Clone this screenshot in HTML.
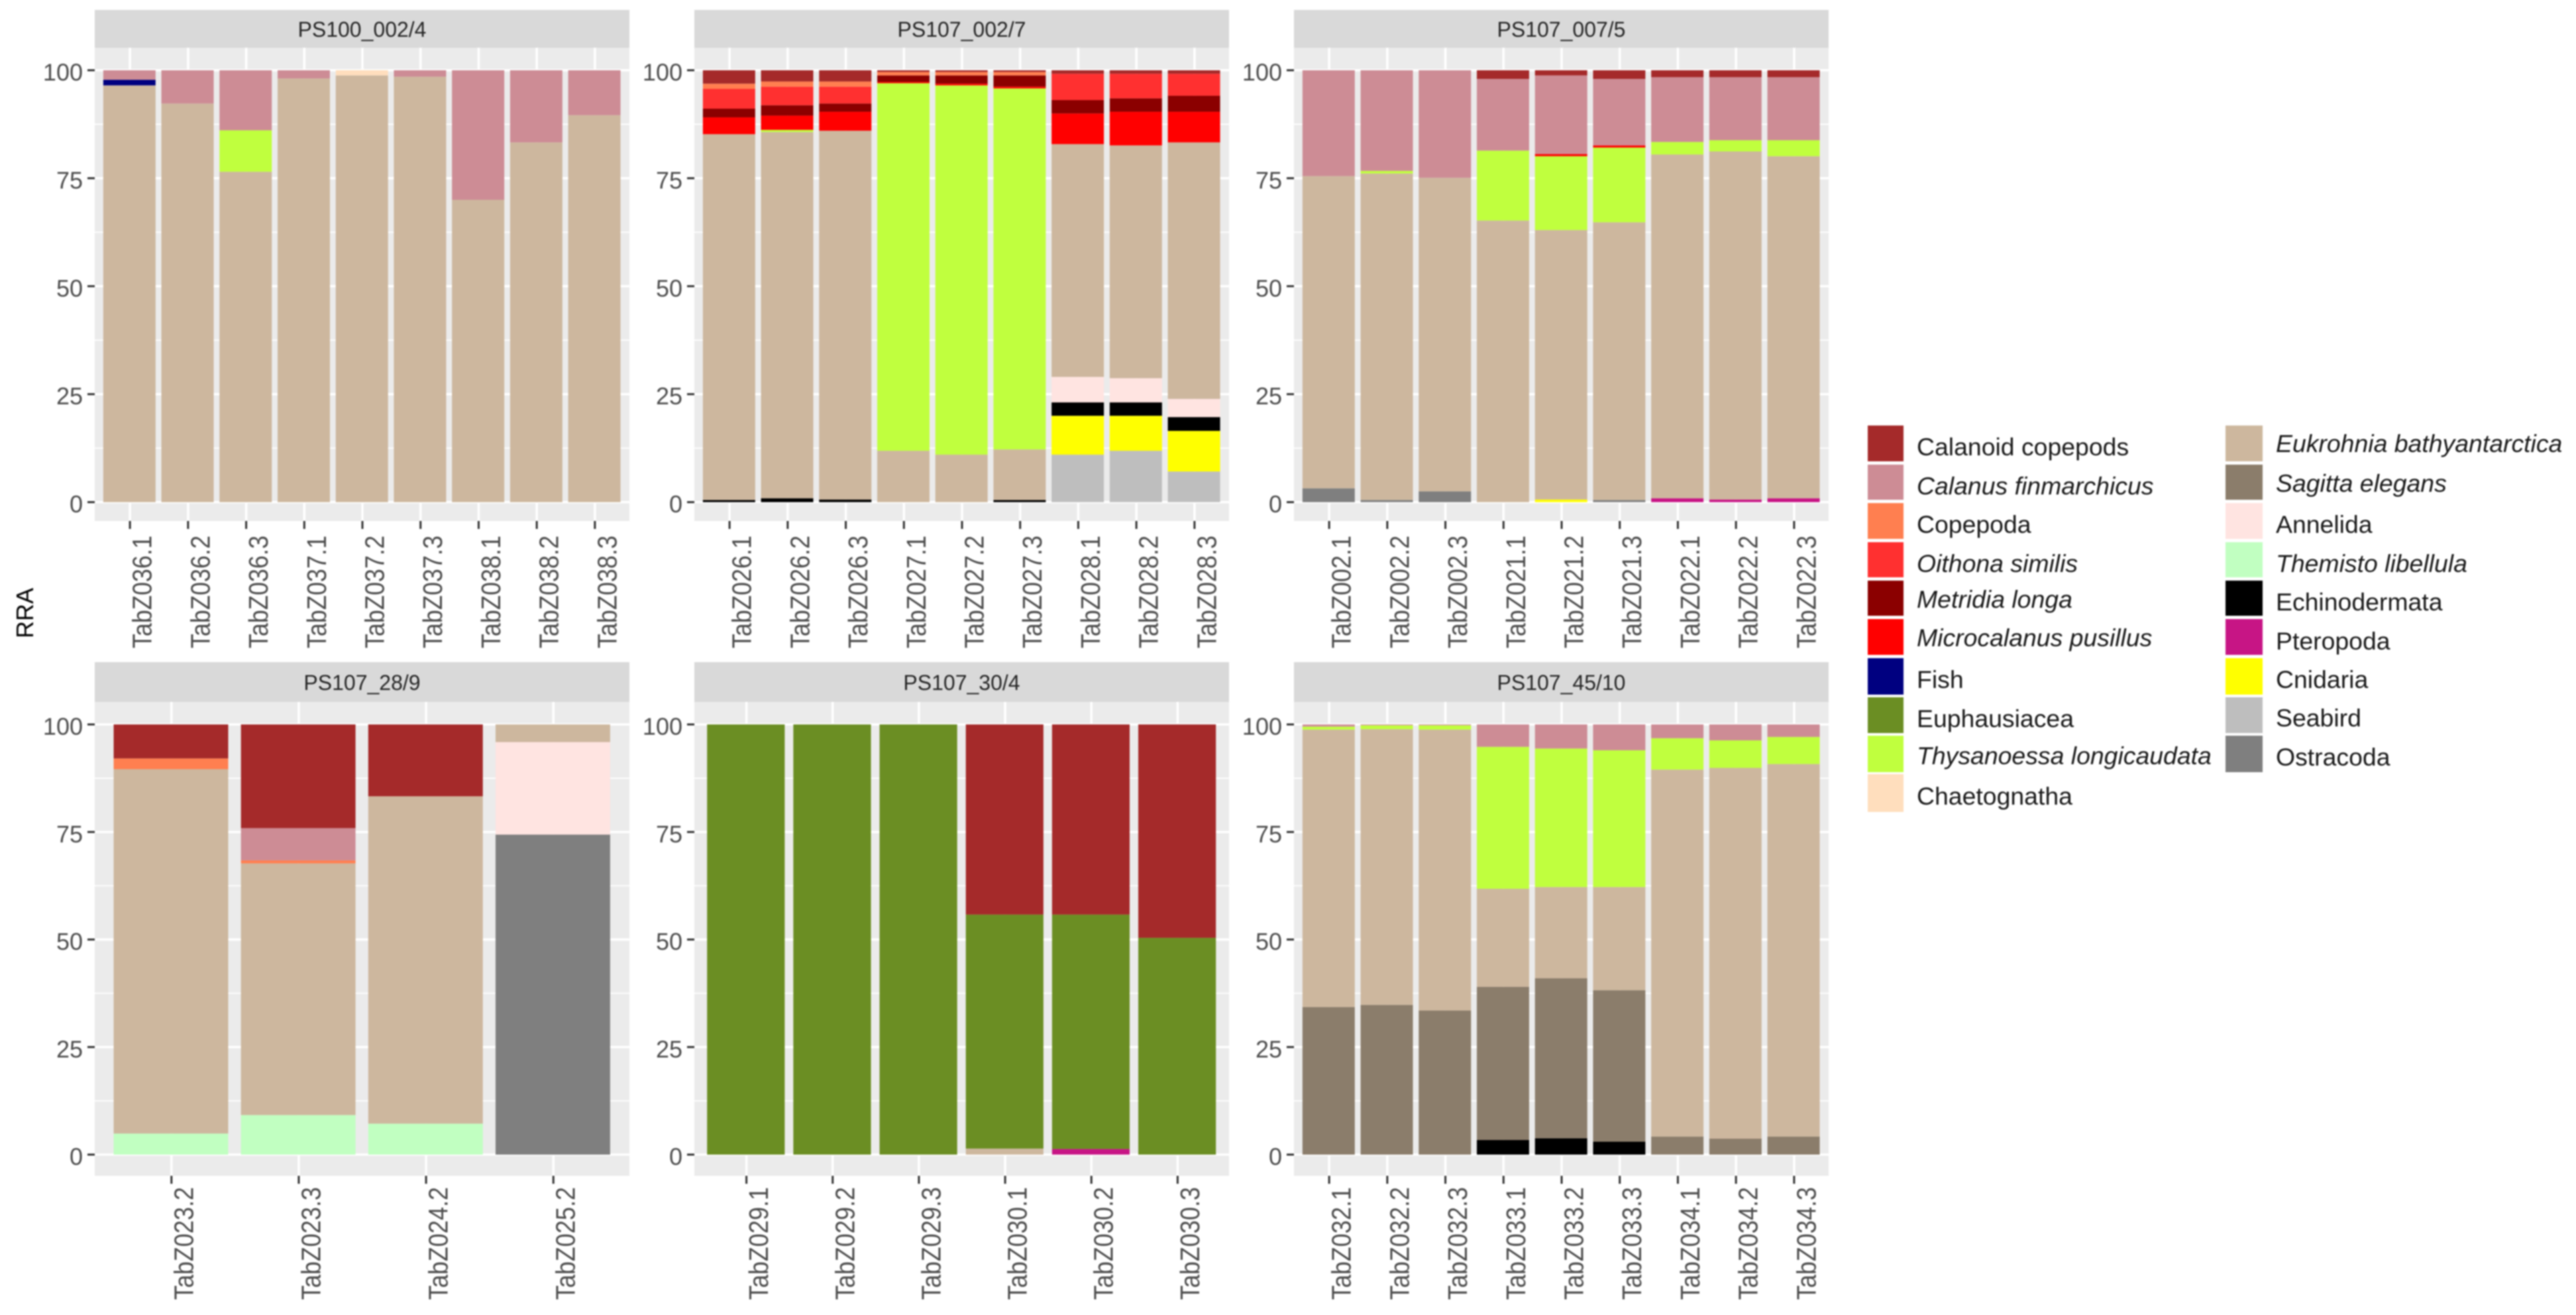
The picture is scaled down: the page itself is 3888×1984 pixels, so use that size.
<!DOCTYPE html>
<html lang="en">
<head>
<meta charset="utf-8">
<title>RRA stacked bars by station</title>
<style>
  html, body { margin: 0; padding: 0; background: #fff; width: 3888px; height: 1984px; overflow: hidden; }
  svg { display: block; filter: blur(1.1px); font-family: "Liberation Sans", Arial, sans-serif; }
  .lg { font-size: 37.4px; fill: #1a1a1a; }
  .it { font-style: italic; }
</style>
</head>
<body>
<svg id="chart" xmlns="http://www.w3.org/2000/svg" width="3888" height="1984" viewBox="0 0 3888 1984">
  <rect x="0" y="0" width="3888" height="1984" fill="#ffffff"/>
  <text transform="translate(50,925) rotate(-90)" text-anchor="middle" font-size="36" fill="#000">RRA</text>

  <g id="legend">
    <rect x="2819" y="642" width="54" height="54" fill="#A52A2A"/>
    <text class="lg" x="2893" y="687">Calanoid copepods</text>
    <rect x="2819" y="701" width="54" height="53" fill="#CD8C95"/>
    <text class="lg it" x="2893" y="746">Calanus finmarchicus</text>
    <rect x="2819" y="759" width="54" height="54" fill="#FF7F50"/>
    <text class="lg" x="2893" y="804">Copepoda</text>
    <rect x="2819" y="818" width="54" height="53" fill="#FF3030"/>
    <text class="lg it" x="2893" y="863">Oithona similis</text>
    <rect x="2819" y="876" width="54" height="53" fill="#8B0000"/>
    <text class="lg it" x="2893" y="917">Metridia longa</text>
    <rect x="2819" y="934" width="54" height="54" fill="#FF0000"/>
    <text class="lg it" x="2893" y="975">Microcalanus pusillus</text>
    <rect x="2819" y="993" width="54" height="55" fill="#000080"/>
    <text class="lg" x="2893" y="1038">Fish</text>
    <rect x="2819" y="1052" width="54" height="54" fill="#6B8E23"/>
    <text class="lg" x="2893" y="1097">Euphausiacea</text>
    <rect x="2819" y="1110" width="54" height="55" fill="#C0FF3E"/>
    <text class="lg it" x="2893" y="1153">Thysanoessa longicaudata</text>
    <rect x="2819" y="1168" width="54" height="57" fill="#FFDEBD"/>
    <text class="lg" x="2893" y="1214">Chaetognatha</text>

    <rect x="3359" y="642" width="56" height="54" fill="#CDB79E"/>
    <text class="lg it" x="3435" y="682">Eukrohnia bathyantarctica</text>
    <rect x="3359" y="701" width="56" height="53" fill="#8B7D6B"/>
    <text class="lg it" x="3435" y="742">Sagitta elegans</text>
    <rect x="3359" y="759" width="56" height="54" fill="#FFE4E1"/>
    <text class="lg" x="3435" y="804">Annelida</text>
    <rect x="3359" y="818" width="56" height="53" fill="#C1FFC1"/>
    <text class="lg it" x="3435" y="863">Themisto libellula</text>
    <rect x="3359" y="876" width="56" height="53" fill="#000000"/>
    <text class="lg" x="3435" y="921">Echinodermata</text>
    <rect x="3359" y="934" width="56" height="54" fill="#C71585"/>
    <text class="lg" x="3435" y="980">Pteropoda</text>
    <rect x="3359" y="993" width="56" height="55" fill="#FFFF00"/>
    <text class="lg" x="3435" y="1038">Cnidaria</text>
    <rect x="3359" y="1052" width="56" height="54" fill="#BEBEBE"/>
    <text class="lg" x="3435" y="1096">Seabird</text>
    <rect x="3359" y="1110" width="56" height="55" fill="#7F7F7F"/>
    <text class="lg" x="3435" y="1155">Ostracoda</text>
  </g>
</svg>

<script>
// ---- shared categories ----
const seriesOrder = ['calanoid','calanus','copepoda','oithona','metridia','microcalanus','fish','euphausiacea','thysanoessa','chaetognatha','eukrohnia','sagitta','annelida','themisto','echinodermata','pteropoda','cnidaria','seabird','ostracoda'];
const seriesColors = ['#A52A2A','#CD8C95','#FF7F50','#FF3030','#8B0000','#FF0000','#000080','#6B8E23','#C0FF3E','#FFDEBD','#CDB79E','#8B7D6B','#FFE4E1','#C1FFC1','#000000','#C71585','#FFFF00','#BEBEBE','#7F7F7F'];
const yTickValues = [0, 25, 50, 75, 100];
const yMinorValues = [12.5, 37.5, 62.5, 87.5];

// ---- panel 1: PS100_002/4 ----
const p1Title = 'PS100_002/4';
const p1Samples = ['TabZ036.1','TabZ036.2','TabZ036.3','TabZ037.1','TabZ037.2','TabZ037.3','TabZ038.1','TabZ038.2','TabZ038.3'];
const p1Calanus = [2.2,7.7,13.9,1.9,0,1.5,30,16.7,10.4];
const p1Fish = [1.3,0,0,0,0,0,0,0,0];
const p1Thysanoessa = [0,0,9.6,0,0,0,0,0,0];
const p1Chaetognatha = [0,0,0,0,1.2,0,0,0,0];
const p1Eukrohnia = [96.5,92.3,76.5,98.1,98.8,98.5,70,83.3,89.6];

// ---- panel 2: PS107_002/7 ----
const p2Title = 'PS107_002/7';
const p2Samples = ['TabZ026.1','TabZ026.2','TabZ026.3','TabZ027.1','TabZ027.2','TabZ027.3','TabZ028.1','TabZ028.2','TabZ028.3'];
const p2Calanoid = [3.1,2.6,2.6,0.4,0.4,0.4,0.8,0.8,0.8];
const p2Copepoda = [1.2,1.2,1.2,0.8,0.8,0.8,0,0,0];
const p2Oithona = [4.6,4.3,3.9,0,0,0,6.1,5.7,5.1];
const p2Metridia = [2.0,2.4,1.9,1.5,1.9,2.6,3.1,3.1,3.7];
const p2Microcalanus = [3.9,3.3,4.4,0.3,0.4,0.4,7.1,7.8,7.1];
const p2Thysanoessa = [0,0.5,0,85.1,85.5,83.6,0,0,0];
const p2Eukrohnia = [84.7,84.8,85.4,11.9,11,11.7,53.9,53.9,59.4];
const p2Annelida = [0,0,0,0,0,0,5.9,5.6,4.2];
const p2Echinodermata = [0.5,0.9,0.6,0,0,0.5,3.1,3.1,3.2];
const p2Cnidaria = [0,0,0,0,0,0,9,8.1,9.4];
const p2Seabird = [0,0,0,0,0,0,11,11.9,7.1];

// ---- panel 3: PS107_007/5 ----
const p3Title = 'PS107_007/5';
const p3Samples = ['TabZ002.1','TabZ002.2','TabZ002.3','TabZ021.1','TabZ021.2','TabZ021.3','TabZ022.1','TabZ022.2','TabZ022.3'];
const p3Calanoid = [0,0,0,2,1.2,2,1.6,1.6,1.6];
const p3Calanus = [24.5,23.3,24.9,16.6,18.2,15.4,15,14.6,14.6];
const p3Microcalanus = [0,0,0,0,0.5,0.5,0,0,0];
const p3Thysanoessa = [0,0.6,0,16.2,17.1,17.3,2.9,2.6,3.7];
const p3Eukrohnia = [72.3,75.6,72.6,65.2,62.4,64.3,79.6,80.6,79.2];
const p3Pteropoda = [0,0,0,0,0,0,0.9,0.6,0.9];
const p3Cnidaria = [0,0,0,0,0.6,0,0,0,0];
const p3Ostracoda = [3.2,0.5,2.5,0,0,0.5,0,0,0];

// ---- panel 4: PS107_28/9 ----
const p4Title = 'PS107_28/9';
const p4Samples = ['TabZ023.2','TabZ023.3','TabZ024.2','TabZ025.2'];
const p4Calanoid = [7.9,24.1,16.7,0];
const p4Calanus = [0,7.5,0,0];
const p4Copepoda = [2.5,0.7,0,0];
const p4Eukrohnia = [84.7,58.5,76.1,4.1];
const p4Annelida = [0,0,0,21.5];
const p4Themisto = [4.9,9.2,7.2,0];
const p4Ostracoda = [0,0,0,74.4];

// ---- panel 5: PS107_30/4 ----
const p5Title = 'PS107_30/4';
const p5Samples = ['TabZ029.1','TabZ029.2','TabZ029.3','TabZ030.1','TabZ030.2','TabZ030.3'];
const p5Calanoid = [0,0,0,44.2,44.2,49.6];
const p5Euphausiacea = [100,100,100,54.4,54.5,50.4];
const p5Eukrohnia = [0,0,0,1.4,0,0];
const p5Pteropoda = [0,0,0,0,1.3,0];

// ---- panel 6: PS107_45/10 ----
const p6Title = 'PS107_45/10';
const p6Samples = ['TabZ032.1','TabZ032.2','TabZ032.3','TabZ033.1','TabZ033.2','TabZ033.3','TabZ034.1','TabZ034.2','TabZ034.3'];
const p6Calanus = [0.5,0.2,0.2,5.2,5.6,6,3.2,3.7,2.9];
const p6Thysanoessa = [0.7,0.9,1,33,32.2,31.8,7.3,6.4,6.3];
const p6Eukrohnia = [64.5,64.1,65.3,22.8,21.2,24,85.3,86.2,86.6];
const p6Sagitta = [34.3,34.8,33.5,35.6,37.2,35.2,4.2,3.7,4.2];
const p6Echinodermata = [0,0,0,3.4,3.8,3,0,0,0];

const panels = [
  { title: p1Title, samples: p1Samples, col: 0, row: 0, series: { calanus: p1Calanus, fish: p1Fish, thysanoessa: p1Thysanoessa, chaetognatha: p1Chaetognatha, eukrohnia: p1Eukrohnia } },
  { title: p2Title, samples: p2Samples, col: 1, row: 0, series: { calanoid: p2Calanoid, copepoda: p2Copepoda, oithona: p2Oithona, metridia: p2Metridia, microcalanus: p2Microcalanus, thysanoessa: p2Thysanoessa, eukrohnia: p2Eukrohnia, annelida: p2Annelida, echinodermata: p2Echinodermata, cnidaria: p2Cnidaria, seabird: p2Seabird } },
  { title: p3Title, samples: p3Samples, col: 2, row: 0, series: { calanoid: p3Calanoid, calanus: p3Calanus, microcalanus: p3Microcalanus, thysanoessa: p3Thysanoessa, eukrohnia: p3Eukrohnia, pteropoda: p3Pteropoda, cnidaria: p3Cnidaria, ostracoda: p3Ostracoda } },
  { title: p4Title, samples: p4Samples, col: 0, row: 1, series: { calanoid: p4Calanoid, calanus: p4Calanus, copepoda: p4Copepoda, eukrohnia: p4Eukrohnia, annelida: p4Annelida, themisto: p4Themisto, ostracoda: p4Ostracoda } },
  { title: p5Title, samples: p5Samples, col: 1, row: 1, series: { calanoid: p5Calanoid, euphausiacea: p5Euphausiacea, eukrohnia: p5Eukrohnia, pteropoda: p5Pteropoda } },
  { title: p6Title, samples: p6Samples, col: 2, row: 1, series: { calanus: p6Calanus, thysanoessa: p6Thysanoessa, eukrohnia: p6Eukrohnia, sagitta: p6Sagitta, echinodermata: p6Echinodermata } }
];

// ---- layout ----
const SVGNS = 'http://www.w3.org/2000/svg';
const chart = document.getElementById('chart');
const PANEL_W = 807;
const colLeft = c => 143 + c * 905;
const rowGeom = r => r === 0
  ? { stripTop: 15, panelTop: 72, panelBottom: 786, y100: 106, y0: 757.6, labelTop: 808 }
  : { stripTop: 999, panelTop: 1059, panelBottom: 1774, y100: 1093, y0: 1742, labelTop: 1791 };

// ---- axis functions ----
function yScale(g, v) {
  return g.y0 - (v / 100) * (g.y0 - g.y100);
}
function bandUnit(n) {
  return PANEL_W / (n - 1 + 1.2);
}
function xScale(left, n, i) {
  return left + 0.5 + bandUnit(n) * (0.6 + i);
}

function mk(tag, attrs, parent) {
  const el = document.createElementNS(SVGNS, tag);
  for (const k in attrs) el.setAttribute(k, attrs[k]);
  parent.appendChild(el);
  return el;
}

panels.forEach(function (p) {
  const left = colLeft(p.col);
  const g = rowGeom(p.row);
  const n = p.samples.length;
  const slug = p.title.replace(/[^A-Za-z0-9]+/g, '-').toLowerCase();

  const group = mk('g', {}, chart);
  
  

  const strip = mk('rect', { x: left, y: g.stripTop, width: PANEL_W, height: g.panelTop - g.stripTop, fill: '#D9D9D9' }, group);
  
  

  const stripText = mk('text', { x: left + PANEL_W / 2, y: (g.stripTop + g.panelTop) / 2 + 12, 'text-anchor': 'middle', 'font-size': 32, fill: '#262626' }, group);
  stripText.textContent = p.title;
  
  

  const bg = mk('rect', { x: left, y: g.panelTop, width: PANEL_W, height: g.panelBottom - g.panelTop, fill: '#EBEBEB' }, group);
  
  

  yMinorValues.forEach(function (v) {
    const yy = yScale(g, v);
    const line = mk('line', { x1: left, x2: left + PANEL_W, y1: yy, y2: yy, stroke: '#fff', 'stroke-width': 1.8 }, group);
    
    
  });

  yTickValues.forEach(function (v) {
    const yy = yScale(g, v);
    const line = mk('line', { x1: left, x2: left + PANEL_W, y1: yy, y2: yy, stroke: '#fff', 'stroke-width': 3.5 }, group);
    
    

    const tick = mk('line', { x1: left - 11, x2: left, y1: yy, y2: yy, stroke: '#333', 'stroke-width': 3 }, group);
    
    

    const label = mk('text', { x: left - 18, y: yy + 15.5, 'text-anchor': 'end', 'font-size': 36, fill: '#4D4D4D' }, group);
    label.textContent = String(v);
    
    
  });

  p.samples.forEach(function (name, i) {
    const cx = xScale(left, n, i);

    const vline = mk('line', { x1: cx, x2: cx, y1: g.panelTop, y2: g.panelBottom, stroke: '#fff', 'stroke-width': 3.5 }, group);
    
    

    const tick = mk('line', { x1: cx, x2: cx, y1: g.panelBottom, y2: g.panelBottom + 12, stroke: '#333', 'stroke-width': 3 }, group);
    
    

    const label = mk('text', { transform: 'translate(' + (cx + 32.5) + ',' + g.labelTop + ') rotate(-90) scale(1,1.12)', 'text-anchor': 'end', 'font-size': 36, fill: '#4D4D4D' }, group);
    label.textContent = name;
    
    
  });

  const barW = bandUnit(n) * 0.9;
  p.samples.forEach(function (name, i) {
    const cx = xScale(left, n, i) - 0.8;
    let cum = 0;
    for (let s = seriesOrder.length - 1; s >= 0; s--) {
      const key = seriesOrder[s];
      const arr = p.series[key];
      if (!arr || !arr[i]) continue;
      const yTop = yScale(g, cum + arr[i]);
      const yBot = yScale(g, cum);
      const bar = mk('rect', { x: cx - barW / 2, y: yTop, width: barW, height: yBot - yTop, fill: seriesColors[s] }, group);
      
      
      cum += arr[i];
    }
  });
});
</script>
</body>
</html>
